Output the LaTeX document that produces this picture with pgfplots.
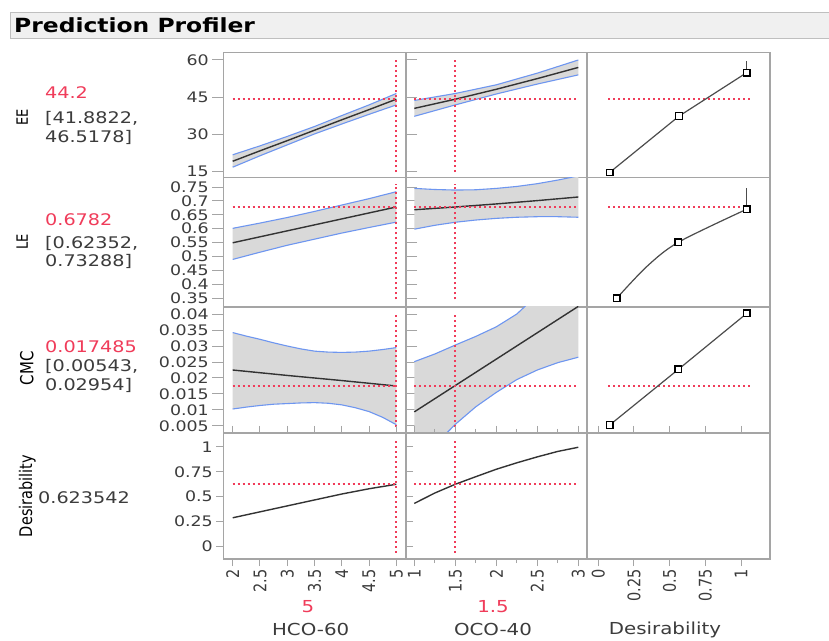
\documentclass[border=0pt]{standalone}
\usepackage{fontspec}
\setmainfont{DejaVu Sans}[FakeStretch=1.2]
\newfontfamily\rotfont{DejaVu Sans}
\usepackage{graphicx}
\usepackage{pgfplots}
\pgfplotsset{compat=1.18}
\definecolor{jred}{RGB}{240,60,90}
\definecolor{jblue}{RGB}{110,150,240}
\definecolor{jtext}{RGB}{60,60,60}
\definecolor{jframe}{RGB}{165,165,165}
\definecolor{titlebg}{RGB}{240,240,240}
\newcommand\fsTick{\fontsize{14.5}{15}\selectfont}
\newcommand\fsLab{\fontsize{16}{18}\selectfont}
\newcommand\fsAx{\fontsize{16.5}{18}\selectfont}
\newcommand\rl[1]{\scalebox{1}[1.2]{\rotfont\fsTick #1}}
\pgfplotsset{
 panel/.style={scale only axis, anchor=south west,
   scaled x ticks=false, scaled y ticks=false,
   axis line style={draw=jframe, line width=1.3pt},
   tick style={draw=jframe, line width=1pt},
   tick align=outside, major tick length=11pt, minor tick length=4pt,
   xtick=\empty, ytick=\empty,
   yticklabel style={font=\fsTick, text=jtext},
   xticklabel style={rotate=90, anchor=east, text=jtext}},
 bottom/.style={major tick length=7pt},
 band/.style={fill=black!15, draw=none},
 ci/.style={draw=jblue, line width=1.1pt},
 fit/.style={draw=black!80, line width=1.4pt},
 ref/.style={draw=jred, line width=1.8pt, dash pattern=on 2pt off 3pt},
 dfit/.style={draw=black!70, line width=1.2pt},
 sq/.style={only marks, mark=square*, mark size=3.3pt, mark options={fill=white, draw=black, line width=1.2pt, solid}},
}
\begin{document}
\begin{tikzpicture}[x=1pt,y=1pt]
\useasboundingbox (0,0) rectangle (829,640);
\fill[white] (0,0) rectangle (829,640);
\draw[fill=titlebg, draw=black!25] (10,602) rectangle (829,628);
\node[anchor=west, inner sep=0] at (14,615) {\fontsize{19.5}{20}\selectfont\bfseries Prediction Profiler};

% ---------- left texts
\node[rotate=90] at (22.3,522.7) {\scalebox{1}[1.2]{\rotfont\fontsize{13}{14}\selectfont EE}};
\node[anchor=base west, inner sep=0, text=jred] at (45,541) {\fsLab 44.2};
\node[anchor=base west, inner sep=0, text=jtext] at (45,516) {\fsLab [41.8822,};
\node[anchor=base west, inner sep=0, text=jtext] at (45,497) {\fsLab 46.5178]};

\node[rotate=90] at (22.3,398.3) {\scalebox{1}[1.2]{\rotfont\fontsize{13}{14}\selectfont LE}};
\node[anchor=base west, inner sep=0, text=jred] at (45,414) {\fsLab 0.6782};
\node[anchor=base west, inner sep=0, text=jtext] at (45,391) {\fsLab [0.62352,};
\node[anchor=base west, inner sep=0, text=jtext] at (45,373) {\fsLab 0.73288]};

\node[rotate=90] at (26.7,271.7) {\scalebox{1}[1.2]{\rotfont\fontsize{15}{16}\selectfont CMC}};
\node[anchor=base west, inner sep=0, text=jred] at (45,287) {\fsLab 0.017485};
\node[anchor=base west, inner sep=0, text=jtext] at (45,268) {\fsLab [0.00543,};
\node[anchor=base west, inner sep=0, text=jtext] at (45,249) {\fsLab 0.02954]};

\node[rotate=90] at (27.3,144) {\scalebox{1}[1.2]{\rotfont\fontsize{14.5}{16}\selectfont Desirability}};
\node[anchor=base west, inner sep=0, text=jtext] at (38,137) {\fsLab 0.623542};

% ---------- bottom labels
\node[anchor=base, inner sep=0, text=jred] at (308,28) {\fsAx 5};
\node[anchor=base, inner sep=0, text=jtext] at (310.7,5) {\fsAx HCO-60};
\node[anchor=base, inner sep=0, text=jred] at (493,28) {\fsAx 1.5};
\node[anchor=base, inner sep=0, text=jtext] at (493,5) {\fsAx OCO-40};
\node[anchor=base, inner sep=0, text=jtext] at (665,6) {\fsAx Desirability};

% ================= ROW 1 : EE =================
\begin{axis}[panel, at={(223.3pt,462.7pt)}, width=182.7pt, height=125pt,
  xmin=1.828, xmax=5.178, ymin=12.74, ymax=63.1,
  ytick={15,30,45,60}, yticklabels={15,30,45,60}]
\addplot[band] coordinates {(2,21.8)(2.5,25.4)(3,29.2)(3.5,33.2)(4,37.6)(4.5,41.9)(5,46.5)(5,41.9)(4.5,38.1)(4,34.2)(3.5,30.2)(3,25.8)(2.5,21.4)(2,16.8)} -- cycle;
\addplot[ci] coordinates {(2,21.8)(2.5,25.4)(3,29.2)(3.5,33.2)(4,37.6)(4.5,41.9)(5,46.5)};
\addplot[ci] coordinates {(2,16.8)(2.5,21.4)(3,25.8)(3.5,30.2)(4,34.2)(4.5,38.1)(5,41.9)};
\addplot[fit] coordinates {(2,19.2)(2.5,23.4)(3,27.5)(3.5,31.7)(4,35.9)(4.5,40.0)(5,44.2)};
\addplot[ref] coordinates {(2,44.2)(5,44.2)};
\addplot[ref] coordinates {(5,14.8)(5,61.1)};
\end{axis}
\begin{axis}[panel, at={(406pt,462.7pt)}, width=181pt, height=125pt,
  xmin=0.899, xmax=3.106, ymin=12.74, ymax=63.1]
\addplot[band] coordinates {(1,43.7)(1.5,46.5)(2,50.0)(2.5,54.7)(3,60.0)(3,54.0)(2.5,50.3)(2,46.3)(1.5,41.9)(1,37.3)} -- cycle;
\addplot[ci] coordinates {(1,43.7)(1.5,46.5)(2,50.0)(2.5,54.7)(3,60.0)};
\addplot[ci] coordinates {(1,37.3)(1.5,41.9)(2,46.3)(2.5,50.3)(3,54.0)};
\addplot[fit] coordinates {(1,40.5)(1.5,44.2)(2,48.2)(2.5,52.5)(3,57.0)};
\addplot[ref] coordinates {(1,44.2)(3,44.2)};
\addplot[ref] coordinates {(1.5,14.8)(1.5,61.1)};
\end{axis}
\begin{axis}[panel, at={(587pt,462.7pt)}, width=183pt, height=125pt,
  xmin=-0.079, xmax=1.203, ymin=12.74, ymax=63.1]
\addplot[ref] coordinates {(0.07,44.2)(1.06,44.2)};
\addplot[dfit] coordinates {(0.08,14.7)(0.566,37.4)(1.04,54.9)};
\addplot[dfit] coordinates {(1.04,54.9)(1.04,59.5)};
\addplot[sq] coordinates {(0.08,14.7)(0.566,37.4)(1.04,54.9)};
\end{axis}

% ================= ROW 2 : LE =================
\begin{axis}[panel, at={(223.3pt,333pt)}, width=182.7pt, height=129.7pt,
  xmin=1.828, xmax=5.178, ymin=0.3176, ymax=0.785,
  ytick={0.35,0.4,0.45,0.5,0.55,0.6,0.65,0.7,0.75},
  yticklabels={0.35,0.4,0.45,0.5,0.55,0.6,0.65,0.7,0.75}]
\addplot[band] coordinates {(2,0.601)(2.5,0.620)(3,0.640)(3.5,0.662)(4,0.685)(4.5,0.708)(5,0.733)(5,0.6235)(4.5,0.604)(4,0.584)(3.5,0.562)(3,0.540)(2.5,0.515)(2,0.489)} -- cycle;
\addplot[ci] coordinates {(2,0.601)(2.5,0.620)(3,0.640)(3.5,0.662)(4,0.685)(4.5,0.708)(5,0.733)};
\addplot[ci] coordinates {(2,0.489)(2.5,0.515)(3,0.540)(3.5,0.562)(4,0.584)(4.5,0.604)(5,0.6235)};
\addplot[fit] coordinates {(2,0.549)(2.5,0.5705)(3,0.592)(3.5,0.6135)(4,0.635)(4.5,0.6565)(5,0.678)};
\addplot[ref] coordinates {(2,0.6782)(5,0.6782)};
\addplot[ref] coordinates {(5,0.345)(5,0.76)};
\end{axis}
\begin{axis}[panel, at={(406pt,333pt)}, width=181pt, height=129.7pt,
  xmin=0.899, xmax=3.106, ymin=0.3176, ymax=0.785]
\addplot[band] coordinates {(1,0.745)(1.25,0.741)(1.5,0.739)(1.75,0.740)(2,0.745)(2.25,0.752)(2.5,0.762)(2.75,0.775)(3,0.790)(3,0.641)(2.75,0.643)(2.5,0.643)(2.25,0.641)(2,0.637)(1.75,0.631)(1.5,0.623)(1.25,0.612)(1,0.598)} -- cycle;
\addplot[ci] coordinates {(1,0.745)(1.25,0.741)(1.5,0.739)(1.75,0.740)(2,0.745)(2.25,0.752)(2.5,0.762)(2.75,0.775)(3,0.790)};
\addplot[ci] coordinates {(1,0.598)(1.25,0.612)(1.5,0.623)(1.75,0.631)(2,0.637)(2.25,0.641)(2.5,0.643)(2.75,0.643)(3,0.641)};
\addplot[fit] coordinates {(1,0.668)(1.5,0.678)(2,0.689)(2.5,0.701)(3,0.714)};
\addplot[ref] coordinates {(1,0.6782)(3,0.6782)};
\addplot[ref] coordinates {(1.5,0.345)(1.5,0.76)};
\end{axis}
\begin{axis}[panel, at={(587pt,333pt)}, width=183pt, height=129.7pt,
  xmin=-0.079, xmax=1.203, ymin=0.3176, ymax=0.785]
\addplot[ref] coordinates {(0.07,0.6782)(1.06,0.6782)};
\addplot[dfit, smooth, tension=0.5] coordinates {(0.129,0.349)(0.339,0.463)(0.561,0.551)(1.04,0.670)};
\addplot[dfit] coordinates {(1.04,0.670)(1.04,0.746)};
\addplot[sq] coordinates {(0.129,0.349)(0.561,0.551)(1.04,0.670)};
\end{axis}

% ================= ROW 3 : CMC =================
\begin{axis}[panel, at={(223.3pt,207pt)}, width=182.7pt, height=126pt,
  xmin=1.828, xmax=5.178, ymin=0.0028, ymax=0.0422,
  ytick={0.005,0.01,0.015,0.02,0.025,0.03,0.035,0.04},
  yticklabels={0.005,0.01,0.015,0.02,0.025,0.03,0.035,0.04}]
\addplot[band] coordinates {(2,0.0342)(2.25,0.0331)(2.5,0.0321)(2.75,0.0310)(3,0.0300)(3.25,0.0291)(3.5,0.0284)(3.75,0.0281)(4,0.0280)(4.25,0.0281)(4.5,0.0284)(4.75,0.0289)(5,0.0295)(5,0.0054)(4.75,0.0077)(4.5,0.0095)(4.25,0.0107)(4,0.0116)(3.75,0.0121)(3.5,0.0123)(3.25,0.0122)(3,0.0120)(2.75,0.0118)(2.5,0.0114)(2.25,0.0109)(2,0.0103)} -- cycle;
\addplot[ci] coordinates {(2,0.0342)(2.25,0.0331)(2.5,0.0321)(2.75,0.0310)(3,0.0300)(3.25,0.0291)(3.5,0.0284)(3.75,0.0281)(4,0.0280)(4.25,0.0281)(4.5,0.0284)(4.75,0.0289)(5,0.0295)};
\addplot[ci] coordinates {(2,0.0103)(2.25,0.0109)(2.5,0.0114)(2.75,0.0118)(3,0.0120)(3.25,0.0122)(3.5,0.0123)(3.75,0.0121)(4,0.0116)(4.25,0.0107)(4.5,0.0095)(4.75,0.0077)(5,0.0054)};
\addplot[fit] coordinates {(2,0.0225)(3,0.0208)(4,0.0192)(5,0.0175)};
\addplot[ref] coordinates {(2,0.017485)(5,0.017485)};
\addplot[ref] coordinates {(5,0.0046)(5,0.0405)};
\end{axis}
\begin{axis}[panel, at={(406pt,207pt)}, width=181pt, height=126pt,
  xmin=0.899, xmax=3.106, ymin=0.0028, ymax=0.0422]
\addplot[band] coordinates {(1,0.0251)(1.25,0.0275)(1.5,0.0303)(1.75,0.0330)(2,0.0360)(2.25,0.0400)(2.5,0.046)(2.75,0.052)(3,0.058)(3,0.0265)(2.75,0.0248)(2.5,0.0225)(2.25,0.0195)(2,0.0155)(1.75,0.0110)(1.5,0.0055)(1.25,-0.001)(1,-0.006)} -- cycle;
\addplot[ci] coordinates {(1,0.0251)(1.25,0.0275)(1.5,0.0303)(1.75,0.0330)(2,0.0360)(2.25,0.0400)(2.5,0.046)(2.75,0.052)(3,0.058)};
\addplot[ci] coordinates {(1,-0.006)(1.25,-0.001)(1.5,0.0055)(1.75,0.0110)(2,0.0155)(2.25,0.0195)(2.5,0.0225)(2.75,0.0248)(3,0.0265)};
\addplot[fit] coordinates {(1,0.0094)(2,0.0259)(3,0.0424)};
\addplot[ref] coordinates {(1,0.017485)(3,0.017485)};
\addplot[ref] coordinates {(1.5,0.0046)(1.5,0.0405)};
\end{axis}
\begin{axis}[panel, at={(587pt,207pt)}, width=183pt, height=126pt,
  xmin=-0.079, xmax=1.203, ymin=0.0028, ymax=0.0422]
\addplot[ref] coordinates {(0.07,0.017485)(1.06,0.017485)};
\addplot[dfit] coordinates {(0.08,0.0053)(0.561,0.0227)(1.04,0.0402)};
\addplot[sq] coordinates {(0.08,0.0053)(0.561,0.0227)(1.04,0.0402)};
\end{axis}

% ================= ROW 4 : Desirability =================
\begin{axis}[panel, bottom, at={(223.3pt,81pt)}, width=182.7pt, height=126pt,
  xmin=1.828, xmax=5.178, ymin=-0.131, ymax=1.141,
  ytick={0,0.25,0.5,0.75,1}, yticklabels={0,0.25,0.5,0.75,1},
  xtick={2,2.5,3,3.5,4,4.5,5},
  xticklabels={\rl{2},\rl{2.5},\rl{3},\rl{3.5},\rl{4},\rl{4.5},\rl{5}}]
\addplot[fit] coordinates {(2,0.285)(2.5,0.345)(3,0.405)(3.5,0.465)(4,0.525)(4.5,0.578)(5,0.6235)};
\addplot[ref] coordinates {(2,0.6235)(5,0.6235)};
\addplot[ref] coordinates {(5,-0.07)(5,1.07)};
\end{axis}
\begin{axis}[panel, bottom, at={(406pt,81pt)}, width=181pt, height=126pt,
  xmin=0.899, xmax=3.106, ymin=-0.131, ymax=1.141,
  xtick={1,1.5,2,2.5,3}, minor xtick={1.25,1.75,2.25,2.75},
  xticklabels={\rl{1},\rl{1.5},\rl{2},\rl{2.5},\rl{3}}]
\addplot[fit] coordinates {(1,0.43)(1.25,0.535)(1.5,0.6235)(1.75,0.70)(2,0.775)(2.25,0.84)(2.5,0.90)(2.75,0.955)(3,0.997)};
\addplot[ref] coordinates {(1,0.6235)(3,0.6235)};
\addplot[ref] coordinates {(1.5,-0.07)(1.5,1.07)};
\end{axis}
\begin{axis}[panel, bottom, at={(587pt,81pt)}, width=183pt, height=126pt,
  xmin=-0.079, xmax=1.203, ymin=-0.131, ymax=1.141,
  xtick={0,0.25,0.5,0.75,1},
  xticklabels={\rl{0},\rl{0.25},\rl{0.5},\rl{0.75},\rl{1}}]
\end{axis}
\end{tikzpicture}
\end{document}
